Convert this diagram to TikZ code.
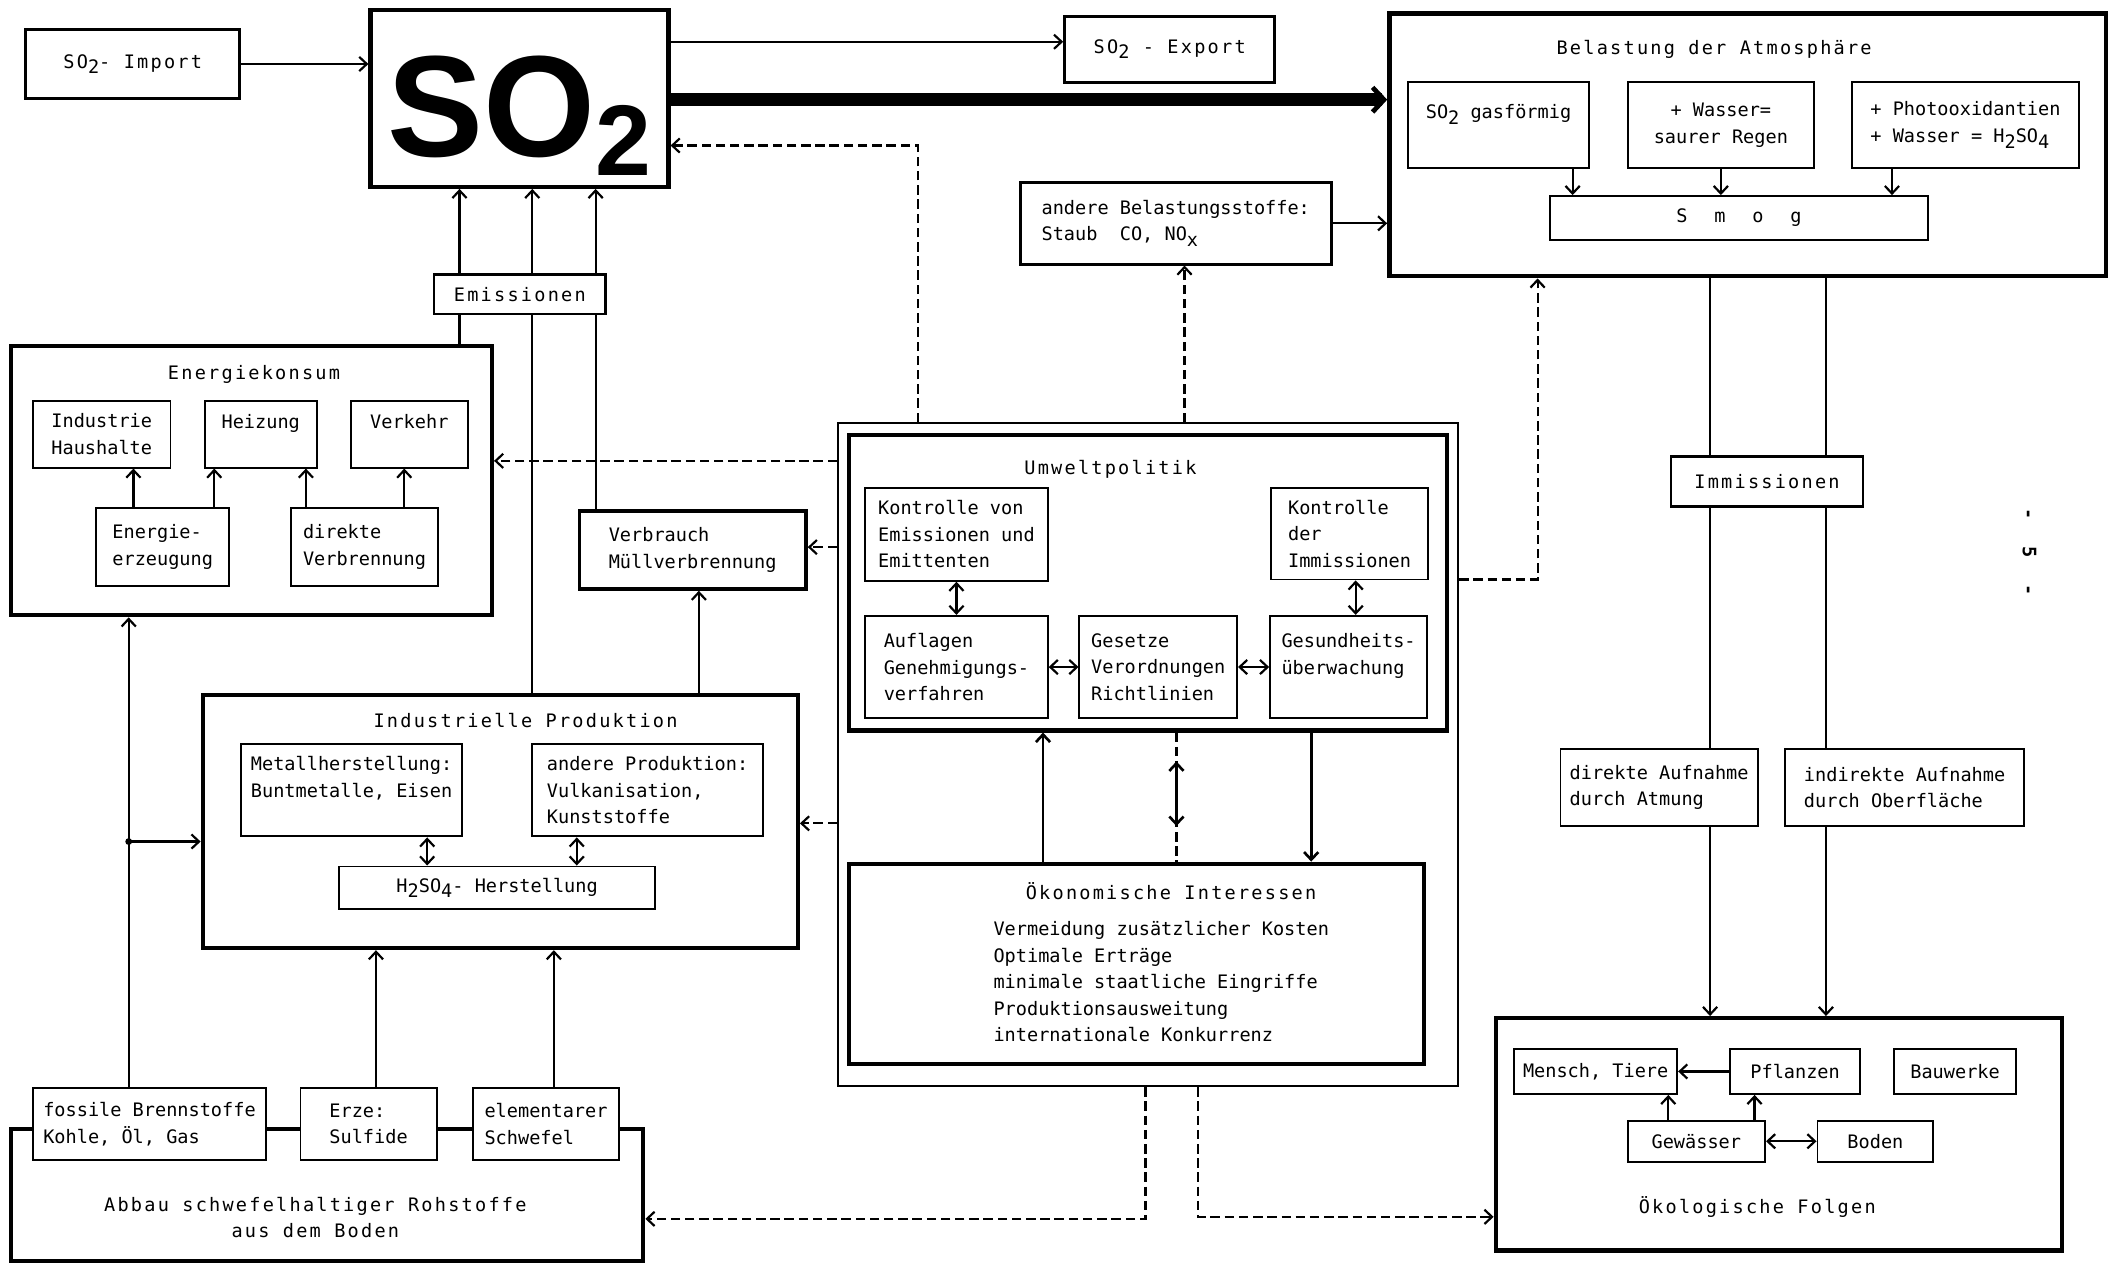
\documentclass[tikz,border=0pt]{standalone}
\usepackage{fontspec}
\setmonofont{DejaVu Sans Mono}
\newfontfamily\spacedmono[LetterSpace=12]{DejaVu Sans Mono}
\newfontfamily\bigsans{Liberation Sans}
\usetikzlibrary{arrows.meta}
\newcommand\bodyfont{\ttfamily\fontsize{9.8}{14}\selectfont}
\newcommand\titlefont{\spacedmono\fontsize{9.8}{14}\selectfont}
\newcommand\lowr[1]{\raisebox{-0.55ex}{#1}}
\tikzset{
  box/.style={draw, line width=1pt, fill=white, inner sep=2pt, align=left, font=\bodyfont},
  midbox/.style={box, line width=1.5pt},
  bigbox/.style={draw, line width=2.3pt, fill=white, inner sep=0pt},
  outerbox/.style={draw, line width=1.1pt},
  title/.style={font=\titlefont, inner sep=0pt, align=center},
  wh/.style 2 args={minimum width=#1*0.025cm, minimum height=#2*0.025cm},
  link/.style={line width=1.15pt},
  arr/.style={link, -{Straight Barb[length=4pt,width=7.5pt]}},
  dbl/.style={link, {Straight Barb[length=4pt,width=7.5pt]}-{Straight Barb[length=4pt,width=7.5pt]}},
  dashedarr/.style={arr, dash pattern=on 5pt off 2.5pt},
  dline/.style={link, dash pattern=on 5pt off 2.5pt},
  heavy/.style={line width=7pt, -{Straight Barb[length=6pt,width=13pt,line width=2.5pt]}}
}
\begin{document}
\begin{tikzpicture}[x=0.025cm, y=-0.025cm]
  \useasboundingbox (0,0) rectangle (1568,937);

  % SO2 source and export
  \node[midbox, wh={159}{51}, font=\titlefont] (imp) at (98.5,47.5) {SO\lowr{2}- Import};
  \node[bigbox, wh={221}{131}, text height=2.715cm, text depth=0.5625cm] (so2) at (385.5,73)
    {\bigsans\bfseries\fontsize{76}{76}\selectfont SO\raisebox{-0.35cm}{\fontsize{53}{53}\selectfont 2}};
  \node[midbox, wh={156}{49}, font=\titlefont] (exp) at (868,36.5) {SO\lowr{2} - Export};
  \node[midbox, wh={231}{60.5}] (oth) at (872.5,165.75) {andere Belastungsstoffe:\\Staub\ \ CO, NO\lowr{x}};

  % Atmosphere
  \node[bigbox, wh={532}{195}] (atm) at (1297,107.5) {};
  \node[title] (atm-t) at (1272,37) {Belastung der Atmosphäre};
  \node[box, wh={134}{63.5}] (gas) at (1112,92.75) {SO\lowr{2} gasförmig\\\mbox{}};
  \node[box, wh={138}{63.5}, align=center] (rain) at (1277,92.75) {+ Wasser=\\saurer Regen};
  \node[box, wh={169}{63.5}] (photo) at (1458.5,92.75) {+ Photooxidantien\\+ Wasser = H\lowr{2}SO\lowr{4}};
  \node[box, wh={281}{32.5}, font=\titlefont] (smog) at (1290.5,161.75) {S\ \ m\ \ o\ \ g};

  % Emissions
  \node[midbox, wh={127.5}{29}, font=\titlefont] (em) at (385.75,218.5) {Emissionen};

  % Energy consumption
  \node[bigbox, wh={357}{199.5}] (ek) at (186.5,356.75) {};
  \node[title] (ek-t) at (188.5,278) {Energiekonsum};
  \node[box, wh={102}{49.5}] (ih) at (75.5,322.25) {Industrie\\Haushalte};
  \node[box, wh={83}{49.5}] (hz) at (193.5,322.25) {Heizung\\\mbox{}};
  \node[box, wh={86.5}{49.5}] (vk) at (303.75,322.25) {Verkehr\\\mbox{}};
  \node[box, wh={98.5}{58.3}] (ee) at (120.75,405.85) {Energie-\\erzeugung};
  \node[box, wh={109}{58.3}] (dv) at (270.5,405.85) {direkte\\Verbrennung};
  \node[box, line width=2pt, wh={168}{58}] (vb) at (514,408) {Verbrauch\\Müllverbrennung};

  % Industrial production
  \node[bigbox, wh={441.5}{187.8}] (ip) at (371.25,609.6) {};
  \node[title] (ip-t) at (390,534.6) {Industrielle Produktion};
  \node[box, wh={164.2}{68.7}] (mh) at (260.9,586.35) {Metallherstellung:\\Buntmetalle, Eisen\\\mbox{}};
  \node[box, wh={171.5}{68.7}] (ap) at (480.55,586.35) {andere Produktion:\\Vulkanisation,\\Kunststoffe};
  \node[box, wh={234.2}{31.5}] (hs) at (368.9,658.75) {H\lowr{2}SO\lowr{4}- Herstellung};

  % Raw materials
  \node[bigbox, wh={469.3}{98.3}] (ab) at (242.65,886.85) {};
  \node[title] (ab-t) at (234,903.6) {Abbau schwefelhaltiger Rohstoffe\\aus dem Boden};
  \node[box, wh={173.3}{53.8}] (fb) at (110.95,834.1) {fossile Brennstoffe\\Kohle, Öl, Gas};
  \node[box, wh={101}{53.8}] (ez) at (273.5,834.1) {Erze:\\Sulfide};
  \node[box, wh={108.8}{53.8}] (es) at (405.2,834.1) {elementarer\\Schwefel};

  % Environmental policy
  \node[outerbox, wh={460}{492}] (uw) at (852,560) {};
  \node[bigbox, wh={444}{219}] (up) at (852,432.5) {};
  \node[title] (up-t) at (824,348) {Umweltpolitik};
  \node[box, wh={135.5}{69}] (kv) at (709.75,396.5) {Kontrolle von\\Emissionen und\\Emittenten};
  \node[box, wh={117}{68}] (kd) at (1001.5,396) {Kontrolle\\der\\Immissionen};
  \node[box, wh={135.5}{76}] (auf) at (709.75,495) {Auflagen\\Genehmigungs-\\verfahren};
  \node[box, wh={117}{76}] (gz) at (859.5,495) {Gesetze\\Verordnungen\\Richtlinien};
  \node[box, wh={116.5}{76}] (gu) at (1000.75,495) {Gesundheits-\\überwachung\\\mbox{}};
  \node[bigbox, wh={426.5}{148.5}] (ok) at (843.25,715.25) {};
  \node[title] (ok-t) at (869,661) {Ökonomische Interessen};
  \node[font=\bodyfont, align=left, anchor=north west, inner sep=0pt] (ok-l) at (737,683.5)
    {Vermeidung zusätzlicher Kosten\\Optimale Erträge\\minimale staatliche Eingriffe\\Produktionsausweitung\\internationale Konkurrenz};

  % Immissions and consequences
  \node[midbox, wh={142.5}{37}, font=\titlefont] (im) at (1311.25,357.5) {Immissionen};
  \node[box, wh={146.4}{57}] (da) at (1231.2,584.5) {direkte Aufnahme\\durch Atmung};
  \node[box, wh={177.3}{57}] (ia) at (1413.35,584.5) {indirekte Aufnahme\\durch Oberfläche};
  \node[bigbox, wh={420}{172.4}] (ef) at (1320,841.8) {};
  \node[title] (ef-t) at (1304,895.4) {Ökologische Folgen};
  \node[box, wh={121}{33.4}] (mt) at (1184.1,795.1) {Mensch, Tiere};
  \node[box, wh={96.6}{33.4}] (pf) at (1332.1,795.1) {Pflanzen};
  \node[box, wh={90.4}{33.4}] (bw) at (1450.8,795.1) {Bauwerke};
  \node[box, wh={102}{30.2}] (gw) at (1258.8,846.9) {Gewässer};
  \node[box, wh={86}{30.2}] (bo) at (1391.7,846.9) {Boden};

  % Page number
  \node[title, rotate=-90, font=\titlefont\bfseries] (pg) at (1506,410) {-\ \ 5\ \ -};

  % Flows into and out of SO2
  \draw[arr] (imp.east) -- (imp.east -| so2.west);
  \draw[arr] (so2.east |- 0,31) -- (exp.west |- 0,31);
  \draw[heavy] (so2.east |- 0,74) -- (atm.west |- 0,74);
  \draw[arr] (oth.east) -- (oth.east -| atm.west);
  \draw[arr] (gas.south -| 1167,0) -- (smog.north -| 1167,0);
  \draw[arr] (rain.south) -- (smog.north -| rain.south);
  \draw[arr] (photo.south -| 1404,0) -- (smog.north -| 1404,0);

  \draw[link] (ek.north -| 341,0) -- (em.south -| 341,0);
  \draw[link] (ip.north -| 395,0) -- (em.south -| 395,0);
  \draw[link] (vb.north -| 442,0) -- (em.south -| 442,0);
  \foreach \x in {341,395,442}
    \draw[arr] (em.north -| \x,0) -- (so2.south -| \x,0);

  % Energy and production
  \draw[arr] (ee.north -| 99,0) -- (ih.south -| 99,0);
  \draw[arr] (ee.north -| 159,0) -- (hz.south -| 159,0);
  \draw[arr] (dv.north -| 227,0) -- (hz.south -| 227,0);
  \draw[arr] (dv.north -| 300,0) -- (vk.south -| 300,0);
  \draw[dbl] (mh.south -| 317,0) -- (hs.north -| 317,0);
  \draw[dbl] (ap.south -| 428,0) -- (hs.north -| 428,0);
  \draw[arr] (ip.north -| 518.6,0) -- (vb.south -| 518.6,0);

  \coordinate (fork) at (95.5,624.5);
  \draw[link] (fb.north -| fork) -- (fork);
  \draw[arr] (fork) -- (ek.south -| fork);
  \draw[arr] (fork) -- (fork -| ip.west);
  \fill (fork) circle (1.8pt);
  \draw[arr] (ez.north -| 279,0) -- (ip.south -| 279,0);
  \draw[arr] (es.north -| 411,0) -- (ip.south -| 411,0);

  % Policy block
  \draw[dbl] (kv.south) -- (auf.north);
  \draw[dbl] (kd.south -| 1006,0) -- (gu.north -| 1006,0);
  \draw[dbl] (auf.east) -- (gz.west);
  \draw[dbl] (gz.east) -- (gu.west);
  \draw[arr, line width=1.4pt] (ok.north -| 774,0) -- (up.south -| 774,0);
  \draw[arr, line width=1.4pt] (up.south -| 973,0) -- (ok.north -| 973,0);
  \draw[dline] (up.south -| 873,0) -- (ok.north -| 873,0);
  \coordinate (mid-a) at (873,565);
  \coordinate (mid-b) at (873,613);
  \draw[dbl, line width=1.4pt] (mid-a) -- (mid-b);

  % Dashed influences
  \draw[dashedarr] (uw.north -| 681,0) |- (so2.east |- 0,108);
  \draw[dashedarr] (uw.north -| 879,0) -- (oth.south -| 879,0);
  \draw[dashedarr] (uw.west |- 0,342) -- (ek.east |- 0,342);
  \draw[dashedarr] (uw.west |- 0,406) -- (vb.east |- 0,406);
  \draw[dashedarr] (uw.west |- 0,611) -- (ip.east |- 0,611);
  \draw[dashedarr] (uw.east |- 0,430) -| (atm.south -| 1141,0);
  \draw[dashedarr] (uw.south -| 850,0) |- (ab.east |- 0,904.5);
  \draw[dashedarr] (uw.south -| 889,0) |- (ef.west |- 0,903);

  % Immissions
  \draw[link] (atm.south -| 1269,0) -- (im.north -| 1269,0);
  \draw[link] (atm.south -| 1355,0) -- (im.north -| 1355,0);
  \draw[link] (im.south -| 1269,0) -- (da.north -| 1269,0);
  \draw[link] (im.south -| 1355,0) -- (ia.north -| 1355,0);
  \draw[arr] (da.south -| 1269,0) -- (ef.north -| 1269,0);
  \draw[arr] (ia.south -| 1355,0) -- (ef.north -| 1355,0);

  % Ecological consequences
  \draw[arr] (pf.west) -- (mt.east);
  \draw[arr] (gw.north -| 1238,0) -- (mt.south -| 1238,0);
  \draw[arr] (gw.north -| 1302,0) -- (pf.south -| 1302,0);
  \draw[dbl] (gw.east) -- (bo.west);
\end{tikzpicture}
\end{document}
